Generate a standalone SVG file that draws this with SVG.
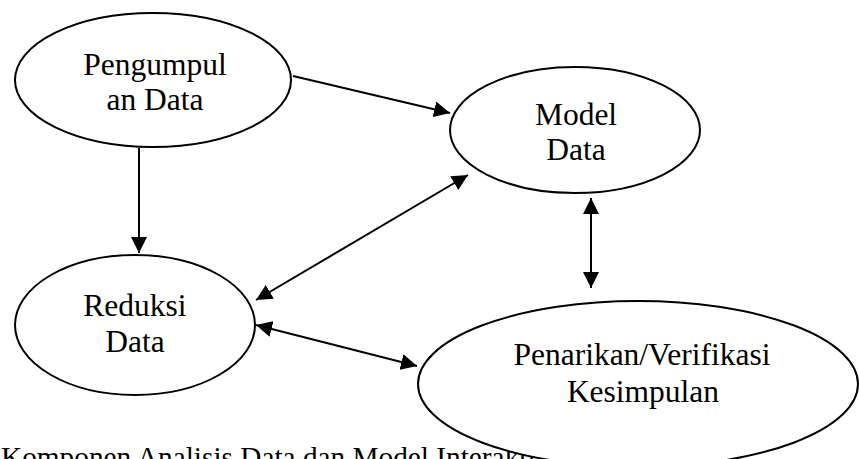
<svg xmlns="http://www.w3.org/2000/svg" width="859" height="459" viewBox="0 0 859 459">
<style>
.node ellipse{fill:#fff;stroke:#000;stroke-width:2}
text{font-family:"Liberation Serif","Times New Roman",serif;font-size:31.5px;fill:#000;text-anchor:middle}
.cap{font-size:29.3px;text-anchor:start}
.conn line{stroke:#000;stroke-width:2}
</style>
<defs>
<marker id="ah" viewBox="0 0 16 16" refX="16" refY="8" markerWidth="16" markerHeight="16" markerUnits="userSpaceOnUse" orient="auto-start-reverse">
<path d="M0,0 L16,8 L0,16 Z" fill="#000"/>
</marker>
</defs>
<text class="cap" x="1" y="467">Komponen Analisis Data dan Model Interaktif</text>
<g class="conn">
<line x1="293" y1="76" x2="450" y2="113" marker-end="url(#ah)"/>
<line x1="139" y1="148" x2="139" y2="253" marker-end="url(#ah)"/>
<line x1="256" y1="300" x2="468" y2="175" marker-start="url(#ah)" marker-end="url(#ah)"/>
<line x1="256" y1="325" x2="417" y2="366" marker-start="url(#ah)" marker-end="url(#ah)"/>
<line x1="591" y1="198" x2="591" y2="288" marker-start="url(#ah)" marker-end="url(#ah)"/>
</g>
<g id="pengumpulan" class="node">
<ellipse cx="153" cy="80" rx="138" ry="67"/>
<text x="155" y="75">Pengumpul</text>
<text x="155" y="110">an Data</text>
</g>
<g id="model" class="node">
<ellipse cx="575" cy="130" rx="125" ry="63"/>
<text x="576" y="125">Model</text>
<text x="576" y="160">Data</text>
</g>
<g id="reduksi" class="node">
<ellipse cx="135" cy="325" rx="120" ry="70"/>
<text x="135" y="316">Reduksi</text>
<text x="135" y="352">Data</text>
</g>
<g id="penarikan" class="node">
<ellipse cx="638" cy="384" rx="220" ry="83"/>
<text x="642" y="365">Penarikan/Verifikasi</text>
<text x="643" y="402">Kesimpulan</text>
</g>
</svg>
